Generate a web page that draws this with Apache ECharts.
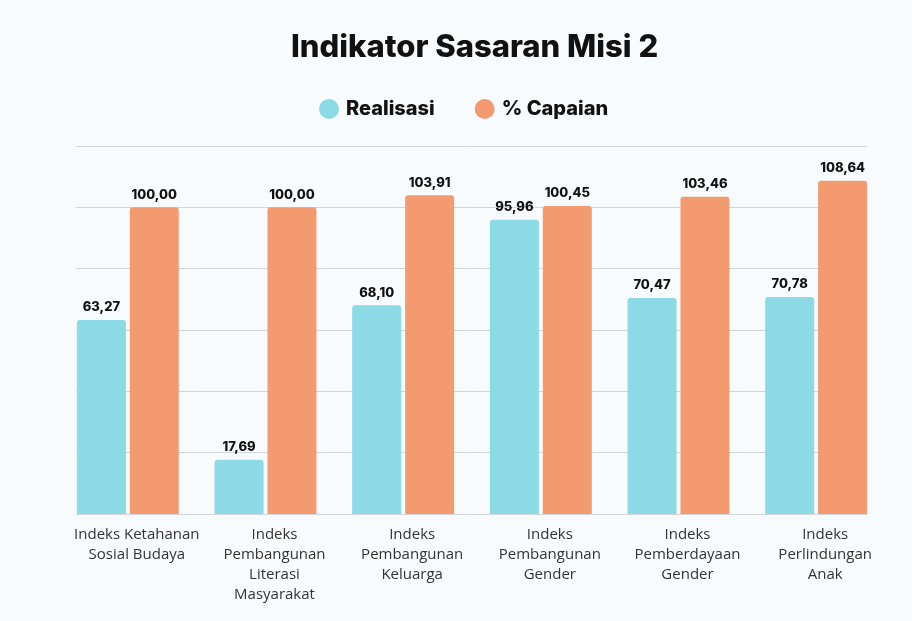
<!DOCTYPE html>
<html>
<head>
<meta charset="utf-8">
<script src="https://cdn.jsdelivr.net/npm/echarts@6/dist/echarts.min.js"></script>
<style>
  html, body { margin: 0; padding: 0; background: #f7fbfd; }
  #chart { width: 912px; height: 621px; }
</style>
</head>
<body>
<div id="chart"></div>
<script>
// data
var categories = [
  "Indeks Ketahanan\nSosial Budaya",
  "Indeks\nPembangunan\nLiterasi\nMasyarakat",
  "Indeks\nPembangunan\nKeluarga",
  "Indeks\nPembangunan\nGender",
  "Indeks\nPemberdayaan\nGender",
  "Indeks\nPerlindungan\nAnak"
];
var realisasi = [63.27, 17.69, 68.10, 95.96, 70.47, 70.78];
var capaian = [100.00, 100.00, 103.91, 100.45, 103.46, 108.64];
var seriesNames = ["Realisasi", "% Capaian"];

var myChart = echarts.init(document.getElementById("chart"));

function fmt(p) {
  return p.value.toFixed(2).replace(".", ",");
}

var labelOption = {
  show: true,
  position: "top",
  distance: 6,
  formatter: fmt,
  fontFamily: "Inter",
  fontWeight: 800,
  fontSize: 13,
  color: "#111"
};

var option = {
  backgroundColor: "#f7fbfd",
  title: {
    text: "Indikator Sasaran Misi 2",
    left: 286,
    top: 27,
    textStyle: {
      fontFamily: "Inter",
      fontWeight: 800,
      fontSize: 31,
      color: "#111"
    }
  },
  legend: {
    top: 94,
    left: 314,
    itemGap: 40,
    itemWidth: 20,
    itemHeight: 20,
    icon: "circle",
    textStyle: {
      fontFamily: "Inter",
      fontWeight: 800,
      fontSize: 20,
      color: "#111",
      padding: [0, 0, 0, 2]
    },
    data: seriesNames
  },
  grid: [
    { left: 59, right: 27, top: 146, bottom: 107 },
    { left: 76, right: 45, top: 146, bottom: 107 }
  ],
  xAxis: [
    {
      type: "category",
      gridIndex: 0,
      data: categories,
      axisLine: { show: false },
      axisTick: { show: false },
      axisLabel: {
        interval: 0,
        margin: 11,
        fontFamily: "Open Sans",
        fontSize: 15,
        lineHeight: 20,
        color: "#333",
        padding: [0, 0, 0, 18]
      }
    },
    {
      type: "category",
      gridIndex: 1,
      data: [],
      show: false
    }
  ],
  yAxis: [
    {
      type: "value",
      gridIndex: 0,
      min: 0,
      max: 120,
      interval: 20,
      axisLabel: { show: false },
      axisLine: { show: false },
      axisTick: { show: false },
      splitLine: { show: false }
    },
    {
      type: "value",
      gridIndex: 1,
      min: 0,
      max: 120,
      interval: 20,
      axisLabel: { show: false },
      axisLine: { show: false },
      axisTick: { show: false },
      splitLine: { show: true, lineStyle: { color: "#d2d5d8", width: 1 } }
    }
  ],
  series: [
    {
      name: seriesNames[0],
      type: "bar",
      xAxisIndex: 0,
      yAxisIndex: 0,
      barWidth: 49,
      barGap: "8%",
      itemStyle: { color: "#8bdae6", borderRadius: [3, 3, 0, 0] },
      label: labelOption,
      data: realisasi
    },
    {
      name: seriesNames[1],
      type: "bar",
      xAxisIndex: 0,
      yAxisIndex: 0,
      barWidth: 49,
      barGap: "8%",
      itemStyle: { color: "#f49a70", borderRadius: [3, 3, 0, 0] },
      label: labelOption,
      data: capaian
    }
  ]
};

myChart.setOption(option);
</script>
</body>
</html>
